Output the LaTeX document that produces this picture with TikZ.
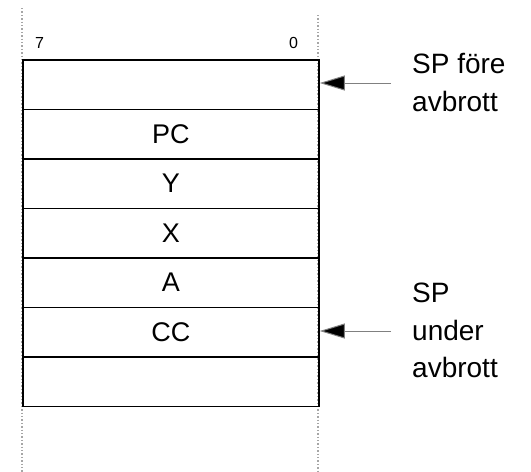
\documentclass[tikz,border=0pt]{standalone}
\usepackage{fontspec}
\setmainfont{Liberation Sans}
\usetikzlibrary{arrows.meta}
\begin{document}
\begin{tikzpicture}[x=1pt,y=-1pt,
  cell/.style={draw=black,line width=1.8pt,minimum width=296pt,minimum height=49.5pt,inner sep=0pt,anchor=north west,font=\fontsize{27}{27}\selectfont},
  guide/.style={draw=gray!70,line width=1.4pt,dotted},
  bitlabel/.style={font=\fontsize{16}{16}\selectfont,inner sep=0pt,anchor=base west},
  splabel/.style={font=\fontsize{28}{28}\selectfont,inner sep=0pt,anchor=base west},
  sparrow/.style={draw=gray,line width=1pt,-{Triangle[length=25pt,width=15pt,fill=black]}}]
\useasboundingbox (0,0) rectangle (531,472);
% bit-position guides
\draw[guide] (22,8) -- (22,472);
\draw[guide] (318,15) -- (318,472);
\node[bitlabel] (b7) at (35,48) {7};
\node[bitlabel] (b0) at (289,48) {0};
% stack cells
\node[cell] (r0) at (22,59) {};
\node[cell] (r1) at (22,108.5) {PC};
\node[cell] (r2) at (22,158) {Y};
\node[cell] (r3) at (22,207.5) {X};
\node[cell] (r4) at (22,257) {A};
\node[cell] (r5) at (22,306.5) {CC};
\node[cell] (r6) at (22,356) {};
% stack pointer markers
\node[splabel] (sp1a) at (412,73) {SP före};
\node[splabel] (sp1b) at (412,111) {avbrott};
\node[splabel] (sp2a) at (412,302) {SP};
\node[splabel] (sp2b) at (412,340) {under};
\node[splabel] (sp2c) at (412,377) {avbrott};
\coordinate (a1) at (391,83);
\coordinate (a2) at (391,331);
\draw[sparrow] (a1) -- (r0.east |- a1);
\draw[sparrow] (a2) -- (r5.east |- a2);
\end{tikzpicture}
\end{document}
